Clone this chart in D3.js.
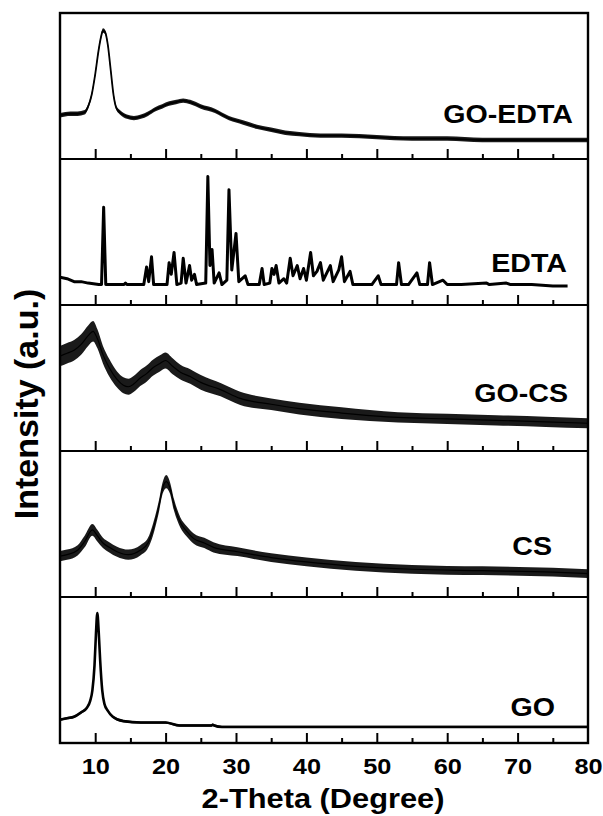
<!DOCTYPE html>
<html>
<head>
<meta charset="utf-8">
<script src="https://cdn.jsdelivr.net/npm/d3@7/dist/d3.min.js"></script>
<style>
  html, body { margin: 0; padding: 0; background: #fff; }
  svg { display: block; }
  text { font-family: "Liberation Sans", Arial, Helvetica, sans-serif; font-weight: bold; fill: #000; }
</style>
</head>
<body>
<svg id="chart" width="603" height="816"></svg>
<script>
// ---------------- DATA ----------------
// Panel order, top to bottom
const panelNames = ["GO-EDTA", "EDTA", "GO-CS", "CS", "GO"];

// x-axis ticks
const majorTicks = [10, 20, 30, 40, 50, 60, 70];
const minorTicks = [15, 25, 35, 45, 55, 65, 75];
const tickLabels = [10, 20, 30, 40, 50, 60, 70, 80];

// GO-EDTA
const goEdtaTheta = [5.0, 6.5, 7.5, 8.5, 9.0, 9.5, 10.0, 10.5, 10.8, 11.1, 11.4, 11.8, 12.2, 12.6, 13.0, 13.5, 14.5, 15.5, 16.5, 17.5, 18.5, 19.5, 20.5, 21.5, 22.5, 23.5, 25.0, 27.0, 29.0, 31.0, 33.0, 35.0, 37.0, 39.0, 42.0, 45.0, 50.0, 55.0, 60.0, 65.0, 70.0, 75.0, 80.0];
const goEdtaInt   = [30, 31, 31, 32, 36, 44, 58, 75, 83, 88, 87, 78, 61, 44, 35, 32, 29, 28, 29, 31, 34, 36, 38, 39, 40, 39, 36, 33, 28, 25, 22, 20, 18, 17, 16, 16, 15, 14, 14, 13, 13, 13, 13];
const goEdtaNoise = 1.5;

// EDTA (sharp crystalline peaks)
const edtaTheta = [5.0, 6.0, 7.0, 8.0, 9.0, 10.5, 10.9, 11.2, 11.5, 13.0, 14.1, 14.3, 14.5, 16.9, 17.3, 17.6, 18.0, 18.3, 20.2, 20.5, 20.8, 21.2, 21.6, 22.2, 22.5, 22.9, 23.4, 23.7, 24.1, 24.4, 25.7, 26.0, 26.3, 26.6, 26.9, 27.6, 28.0, 28.7, 29.0, 29.4, 30.0, 30.4, 31.3, 31.7, 33.3, 33.7, 34.0, 34.8, 35.1, 35.4, 35.7, 36.1, 36.8, 37.2, 37.7, 38.1, 38.7, 39.1, 39.6, 40.0, 40.6, 41.0, 41.5, 42.0, 42.4, 43.4, 43.8, 44.6, 45.0, 45.4, 46.2, 46.6, 48.0, 49.3, 49.6, 50.2, 50.6, 52.8, 53.1, 53.5, 54.5, 55.7, 56.1, 57.2, 57.5, 57.9, 59.4, 60.0, 62.0, 65.6, 66.0, 68.4, 69.0, 72.0, 75.0, 77.1];
const edtaInt   = [19, 18, 16, 16, 15, 14, 14, 67, 14, 14, 14, 15, 14, 14, 26, 16, 33, 14, 14, 29, 21, 36, 14, 15, 32, 15, 27, 17, 21, 14, 15, 88, 27, 38, 15, 22, 14, 17, 79, 24, 49, 16, 20, 14, 14, 25, 14, 15, 25, 21, 27, 15, 18, 15, 32, 20, 27, 18, 25, 17, 36, 20, 23, 29, 17, 27, 16, 24, 33, 16, 23, 14, 14, 14, 16, 20, 14, 14, 29, 14, 14, 22, 14, 14, 29, 14, 17, 14, 14, 15, 14, 15, 14, 14, 13, 13];

// GO-CS
const goCsTheta = [5.0, 6.0, 7.0, 8.0, 9.0, 9.7, 10.3, 11.1, 12.0, 13.1, 14.0, 14.7, 15.5, 16.4, 17.3, 18.2, 19.2, 20.0, 21.0, 22.1, 23.5, 25.0, 27.8, 30.6, 35.0, 39.0, 45.0, 53.0, 60.0, 67.0, 74.0, 80.0];
const goCsInt   = [65, 67, 69, 73, 79, 82, 77, 66, 57, 49, 45, 44, 46, 50, 53, 57, 60, 62, 58, 54, 51, 47, 42, 36, 32, 29, 26, 23, 22, 21, 20, 19];
const goCsNoise = [7, 7, 7, 7, 7, 7, 6.5, 6, 6, 5.5, 5.5, 5.5, 5.5, 5.5, 5.5, 5.5, 5.5, 5.5, 5.5, 5, 5, 5, 4.5, 4.5, 4, 4, 4, 3.5, 3.5, 3.5, 3.5, 3.5];

// CS
const csTheta = [5.0, 6.0, 7.5, 8.5, 9.6, 10.3, 11.1, 12.0, 13.1, 14.7, 16.4, 17.5, 18.2, 19.0, 19.6, 20.1, 20.6, 21.2, 22.1, 23.0, 24.0, 25.5, 26.8, 30.2, 35.0, 40.0, 47.0, 55.0, 65.0, 75.0, 80.0];
const csInt   = [28, 29, 32, 38, 46, 42, 37, 34, 31, 29, 32, 37, 46, 61, 75, 79, 75, 63, 51, 45, 40, 37, 34, 31, 27, 24, 21, 19, 18, 17, 16];
const csNoise = [3.5, 3.5, 3.5, 4, 4, 4, 3.5, 3.5, 3.5, 3.5, 3.5, 3.5, 4, 4, 4, 4.5, 4, 4, 3.5, 3.5, 3.5, 3.5, 3.5, 3, 3, 3, 3, 3, 3, 3, 3];

// GO
const goTheta = [5.0, 6.0, 7.0, 8.0, 8.8, 9.3, 9.6, 9.9, 10.1, 10.3, 10.5, 10.7, 11.0, 11.3, 11.8, 12.5, 14.0, 16.5, 20.0, 22.0, 25.0, 26.5, 26.7, 26.9, 28.0, 35.0, 50.0, 80.0];
const goInt   = [16, 17, 18, 21, 24, 29, 36, 53, 74, 89, 76, 57, 36, 27, 22, 18, 15, 14, 14, 12, 12, 12, 12.5, 12, 11, 11, 11, 11];
const goNoise = 0.8;

// ---------------- LAYOUT ----------------
const svg = d3.select("#chart");
const plotLeft = 60, plotRight = 588, plotTop = 13, plotBottom = 743;
const nPanels = panelNames.length;
const panelH = (plotBottom - plotTop) / nPanels;
const stretch = 1.1; // horizontal stretch of lettering seen in the reference

const x = d3.scaleLinear().domain([5, 80]).range([plotLeft, plotRight]);

const series = [
  { name: "GO-EDTA", theta: goEdtaTheta, val: goEdtaInt, noise: goEdtaTheta.map(() => goEdtaNoise), curve: d3.curveMonotoneX, lw: 1.8, lab: { x: 573, y: 123 } },
  { name: "EDTA", theta: edtaTheta, val: edtaInt, noise: null, curve: d3.curveLinear, lw: 3.0, lab: { x: 567, y: 272 } },
  { name: "GO-CS", theta: goCsTheta, val: goCsInt, noise: goCsNoise, curve: d3.curveMonotoneX, lw: 1.2, lab: { x: 568, y: 402 } },
  { name: "CS", theta: csTheta, val: csInt, noise: csNoise, curve: d3.curveMonotoneX, lw: 1.2, lab: { x: 552, y: 555 } },
  { name: "GO", theta: goTheta, val: goInt, noise: goTheta.map(() => goNoise), curve: d3.curveMonotoneX, lw: 2.6, lab: { x: 555, y: 716 } }
];

const defs = svg.append("defs");

series.forEach((s, i) => {
  const pTop = plotTop + i * panelH;
  const pBot = pTop + panelH;
  const y = d3.scaleLinear().domain([0, 100]).range([pBot, pTop]);

  defs.append("clipPath").attr("id", "clip" + i)
    .append("rect").attr("x", plotLeft).attr("y", pTop).attr("width", plotRight - plotLeft).attr("height", panelH);

  const g = svg.append("g").attr("clip-path", "url(#clip" + i + ")");
  const pts = s.theta.map((t, k) => ({ t, v: s.val[k], n: s.noise ? s.noise[k] : 0 }));

  if (s.noise) {
    const area = d3.area()
      .x(d => x(d.t))
      .y0(d => y(d.v - d.n))
      .y1(d => y(d.v + d.n))
      .curve(s.curve);
    g.append("path").datum(pts).attr("d", area).attr("fill", "#1a1a1a");
  }
  const line = d3.line().x(d => x(d.t)).y(d => y(d.v)).curve(s.curve);
  g.append("path").datum(pts).attr("d", line)
    .attr("fill", "none").attr("stroke", "#000").attr("stroke-width", s.lw)
    .attr("stroke-linejoin", "round");

  // inward ticks at each panel's bottom
  const axMajor = d3.axisBottom(x).tickValues(majorTicks).tickSize(-10).tickFormat("");
  const axMinor = d3.axisBottom(x).tickValues(minorTicks).tickSize(-5).tickFormat("");
  [axMajor, axMinor].forEach(ax => {
    const ga = svg.append("g").attr("transform", `translate(0,${pBot})`).call(ax);
    ga.select(".domain").remove();
    ga.selectAll(".tick line").attr("stroke", "#000").attr("stroke-width", 2);
  });

  // divider line
  if (i < nPanels - 1) {
    svg.append("line").attr("x1", plotLeft).attr("x2", plotRight).attr("y1", pBot).attr("y2", pBot)
      .attr("stroke", "#000").attr("stroke-width", 2.2);
  }

  // sample label
  svg.append("text").attr("transform", `translate(${s.lab.x},${s.lab.y}) scale(${stretch},1)`)
    .attr("text-anchor", "end").attr("font-size", 26).text(s.name);
});

// frame
svg.append("rect").attr("x", plotLeft).attr("y", plotTop).attr("width", plotRight - plotLeft).attr("height", plotBottom - plotTop)
  .attr("fill", "none").attr("stroke", "#000").attr("stroke-width", 2.4);

// bottom tick labels
const axLabels = d3.axisBottom(x).tickValues(tickLabels).tickSize(0).tickPadding(15).tickFormat(d3.format("d"));
const gl = svg.append("g").attr("transform", `translate(0,${plotBottom})`).call(axLabels);
gl.select(".domain").remove();
gl.selectAll(".tick text")
  .attr("font-size", 22)
  .attr("font-family", "'Liberation Sans', Arial, sans-serif")
  .attr("font-weight", "bold").attr("fill", "#000")
  .attr("transform", `scale(${stretch + 0.05},1)`);

// axis titles
svg.append("text").attr("transform", `translate(${(plotLeft + plotRight) / 2 - 1},808) scale(${stretch},1)`)
  .attr("text-anchor", "middle").attr("font-size", 28).text("2-Theta (Degree)");

svg.append("text").attr("transform", "translate(38,404) rotate(-90)")
  .attr("text-anchor", "middle").attr("font-size", 34).text("Intensity (a.u.)");
</script>
</body>
</html>
